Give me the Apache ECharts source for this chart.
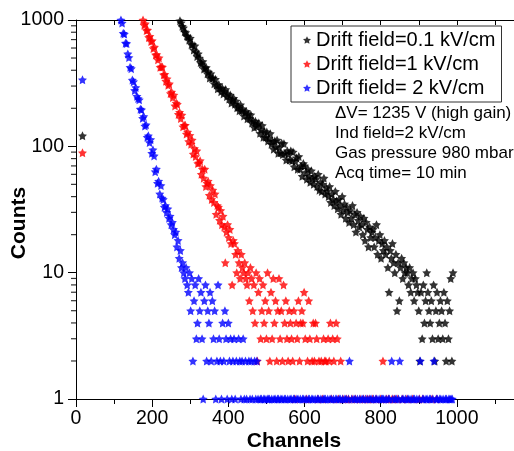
<!DOCTYPE html>
<html>
<head>
<meta charset="utf-8">
<script src="https://cdn.jsdelivr.net/npm/echarts@6/dist/echarts.min.js"></script>
<style>
html, body { margin: 0; padding: 0; background: #fff; }
#chart { width: 514px; height: 451px; }
</style>
</head>
<body>
<div id="chart"></div>
<script>
var seriesNames = ['Drift field=0.1 kV/cm', 'Drift field=1 kV/cm', 'Drift field= 2 kV/cm'];
var seriesColors = ['#000000', '#ff0000', '#0000ff'];

// one lonely bin near channel 17 in every run
var spikeChannel = 17;
var spikeCounts = [121, 89, 336];

// counts read off every 3rd channel, 0 = empty bin (not drawn on log axis)
var channelStep = 3;
var blackStart = 270;
var blackCounts = [
	1040, 985, 950, 892, 866, 808, 795, 748, 737, 694,
	718, 638, 640, 578, 625, 559, 513, 541, 500, 461,
	448, 468, 410, 418, 421, 376, 388, 347, 376, 345,
	348, 313, 339, 306, 286, 308, 289, 271, 289, 260,
	272, 282, 248, 259, 237, 255, 220, 234, 240, 215,
	228, 202, 208, 191, 213, 191, 198, 174, 185, 189,
	165, 179, 166, 178, 153, 159, 141, 158, 144, 149,
	153, 127, 135, 146, 118, 131, 118, 130, 110, 116,
	126, 104, 109, 95, 110, 99, 112, 88, 98, 89,
	106, 86, 105, 88, 78, 92, 87, 78, 92, 77,
	90, 69, 76, 81, 66, 83, 66, 70, 58, 73,
	70, 62, 55, 66, 58, 52, 64, 56, 50, 58,
	55, 48, 60, 45, 52, 44, 50, 56, 42, 47,
	44, 40, 48, 36, 42, 38, 34, 44, 37, 32,
	38, 34, 29, 40, 31, 35, 27, 33, 30, 25,
	31, 27, 34, 24, 29, 21, 30, 26, 23, 28,
	24, 20, 27, 18, 25, 22, 16, 23, 19, 21,
	22, 16, 19, 24, 14, 18, 20, 13, 17, 15,
	18, 14, 16, 11, 7, 15, 13, 17, 12, 10,
	14, 5, 12, 6, 11, 13, 9, 12, 10, 11,
	10, 8, 11, 7, 9, 10, 6, 9, 8, 7,
	5, 2, 7, 3, 8, 4, 6, 10, 7, 5,
	4, 6, 3, 8, 2, 5, 7, 3, 4, 6,
	5, 3, 7, 4, 2, 6, 3, 5, 9, 2,
	10
];
var redStart = 176;
var redCounts = [
	1000, 910, 935, 826, 832, 728, 742, 675, 686, 594,
	610, 529, 533, 485, 502, 423, 427, 424, 368, 371,
	328, 343, 304, 312, 262, 269, 243, 255, 209, 220,
	215, 179, 186, 166, 177, 143, 147, 147, 125, 130,
	109, 122, 104, 112, 87, 96, 83, 92, 73, 74,
	77, 60, 66, 56, 66, 48, 51, 53, 41, 49,
	38, 45, 36, 42, 29, 34, 33, 26, 31, 24,
	28, 23, 12, 21, 24, 19, 22, 17, 8, 18,
	17, 14, 10, 15, 12, 9, 14, 11, 10, 12,
	9, 8, 10, 6, 11, 9, 5, 8, 4, 10,
	2, 7, 9, 3, 5, 8, 4, 6, 3, 10,
	5, 2, 7, 3, 9, 4, 6, 2, 5, 9,
	3, 5, 2, 8, 4, 6, 3, 2, 5, 4,
	3, 2, 5, 1, 4, 3, 6, 2, 4, 5,
	4, 7, 3, 1, 2, 6, 3, 0, 2, 4,
	2, 4, 3, 1, 2, 0, 2, 1, 3, 2,
	2, 0, 3, 2, 4, 1, 3, 2, 0, 4,
	3, 1, 0, 2, 0, 1, 0, 0, 1, 0,
	1, 0, 0, 1, 0, 0, 1, 0, 0, 0,
	1, 0, 0, 1, 0, 0, 1, 0, 1, 0,
	0, 1, 0, 0, 1, 0, 0, 0, 1, 0,
	2, 0, 0, 1, 0, 1, 0, 0, 1, 0,
	1, 0, 0, 1, 0, 0, 0, 1, 0, 0,
	0, 1, 0, 0, 0, 0, 1, 0, 0, 0,
	0, 0, 1, 0, 0, 1, 0, 0, 0, 0,
	0, 0, 0, 1, 0, 0, 0, 1, 0, 0
];
var blueStart = 115;
var blueCounts = [
	1100, 1000, 946, 786, 775, 656, 652, 539, 505, 423,
	412, 335, 325, 277, 292, 249, 239, 234, 197, 195,
	167, 172, 145, 148, 118, 121, 107, 113, 88, 94,
	84, 63, 66, 51, 53, 42, 49, 39, 38, 33,
	34, 30, 32, 27, 28, 24, 25, 22, 20, 21,
	16, 18, 13, 15, 11, 12, 10, 9, 11, 8,
	7, 10, 5, 9, 2, 6, 8, 3, 4, 9,
	5, 7, 3, 1, 6, 8, 2, 5, 4, 7,
	2, 6, 3, 5, 1, 2, 8, 3, 2, 1,
	4, 2, 5, 3, 1, 4, 2, 3, 1, 2,
	3, 1, 2, 0, 3, 2, 1, 2, 3, 1,
	2, 1, 0, 2, 1, 2, 1, 0, 2, 1,
	2, 1, 0, 1, 1, 0, 1, 1, 0, 1,
	1, 1, 0, 1, 0, 1, 1, 0, 1, 1,
	0, 1, 1, 0, 1, 1, 0, 1, 0, 1,
	1, 0, 1, 1, 0, 1, 1, 0, 1, 0,
	1, 1, 0, 1, 0, 1, 1, 0, 1, 1,
	0, 1, 0, 1, 1, 0, 1, 0, 1, 1,
	1, 0, 1, 0, 1, 1, 0, 1, 0, 1,
	1, 0, 1, 1, 0, 1, 0, 1, 1, 0,
	1, 2, 0, 1, 0, 1, 1, 0, 1, 0,
	1, 0, 1, 1, 0, 1, 0, 1, 0, 1,
	1, 0, 1, 0, 1, 1, 0, 1, 0, 1,
	1, 1, 0, 1, 0, 1, 1, 0, 2, 1,
	0, 1, 1, 0, 1, 2, 0, 1, 1, 0,
	1, 0, 1, 1, 0, 1, 0, 1, 1, 0,
	1, 0, 1, 2, 0, 1, 1, 0, 1, 1,
	0, 1, 1, 0, 1, 2, 0, 1, 1, 0,
	1, 1, 0, 1, 0, 1, 1, 0, 1, 1,
	1, 1
];

var yMinorTicks = [2, 3, 4, 5, 6, 7, 8, 9, 20, 30, 40, 50, 60, 70, 80, 90, 200, 300, 400, 500, 600, 700, 800, 900];
var noteLines = ['\u0394V= 1235 V (high gain)', 'Ind field=2 kV/cm', 'Gas pressure 980 mbar', 'Acq time= 10 min'];

var fontName = '"Liberation Sans", Arial, Helvetica, sans-serif';
var star = 'path://M50,0 L64.69,29.77 L97.55,34.55 L73.78,57.73 L79.39,90.45 L50,75 L20.61,90.45 L26.22,57.73 L2.45,34.55 L35.31,29.77 Z';

function toPoints(start, counts, spike) {
	var pts = [[spikeChannel, spike]];
	for (var i = 0; i < counts.length; i++) {
		if (counts[i] > 0) pts.push([start + i * channelStep, counts[i]]);
	}
	return pts;
}

var allData = [
	toPoints(blackStart, blackCounts, spikeCounts[0]),
	toPoints(redStart, redCounts, spikeCounts[1]),
	toPoints(blueStart, blueCounts, spikeCounts[2])
];

var series = [];
for (var s = 0; s < 3; s++) {
	series.push({
		name: seriesNames[s],
		type: 'scatter',
		symbol: star,
		symbolSize: 9,
		itemStyle: { color: seriesColors[s] },
		data: allData[s]
	});
}
// minor ticks of the log axis (outside), as tiny bars on the y axis
series.push({
	type: 'scatter',
	silent: true,
	clip: false,
	symbol: 'rect',
	symbolSize: [5, 1.2],
	symbolOffset: [-2.5, 0],
	itemStyle: { color: '#000' },
	z: 5,
	data: yMinorTicks.map(function (v) { return [0, v]; })
});

var mychart = echarts.init(document.getElementById('chart'));
var option = {
	animation: false,
	backgroundColor: '#fff',
	textStyle: { fontFamily: fontName, color: '#000' },
	grid: { left: 76, right: -19, top: 20, bottom: 52, containLabel: false, outerBoundsMode: 'none' },
	legend: {
		data: seriesNames,
		orient: 'vertical',
		left: 291,
		top: 26,
		padding: [4, 6, 4, 12],
		itemGap: 4,
		itemWidth: 8,
		itemHeight: 8,
		borderColor: '#333',
		borderWidth: 1,
		textStyle: { fontSize: 20, color: '#000', fontFamily: fontName }
	},
	xAxis: [{
		type: 'value',
		position: 'bottom',
		min: 0,
		max: 1200,
		interval: 200,
		axisLine: { show: true, onZero: false, lineStyle: { color: '#000', width: 1 } },
		axisTick: { show: true, inside: false, length: 8, lineStyle: { color: '#000' } },
		minorTick: { show: true, splitNumber: 2, length: 5, lineStyle: { color: '#000' } },
		axisLabel: {
			fontSize: 19.5, color: '#000', margin: 10, showMaxLabel: false, fontFamily: fontName,
			formatter: function (v) { return String(v); }
		},
		splitLine: { show: false }
	}, {
		type: 'value',
		position: 'top',
		min: 0,
		max: 1200,
		interval: 100,
		axisLine: { show: true, onZero: false, lineStyle: { color: '#000', width: 1 } },
		axisTick: { show: true, inside: true, length: 5, lineStyle: { color: '#000' } },
		axisLabel: { show: false },
		splitLine: { show: false }
	}],
	yAxis: {
		type: 'log',
		logBase: 10,
		min: 1,
		max: 1000,
		axisLine: { show: true, onZero: false, lineStyle: { color: '#000', width: 1 } },
		axisTick: { show: true, inside: false, length: 8, lineStyle: { color: '#000' } },
		axisLabel: {
			fontSize: 19.5, color: '#000', margin: 12, fontFamily: fontName,
			formatter: function (v) { return String(Math.round(v)); }
		},
		splitLine: { show: false }
	},
	graphic: [{
		type: 'text',
		x: 335,
		y: 103,
		style: { text: noteLines.join('\n'), fontSize: 17, lineHeight: 20, fontFamily: fontName, fill: '#000' }
	}, {
		type: 'text',
		x: 294,
		y: 441,
		style: { text: 'Channels', fontSize: 21, fontWeight: 'bold', fontFamily: fontName, fill: '#000', align: 'center', verticalAlign: 'middle' }
	}, {
		type: 'text',
		x: 19,
		y: 223,
		rotation: Math.PI / 2,
		style: { text: 'Counts', fontSize: 21, fontWeight: 'bold', fontFamily: fontName, fill: '#000', align: 'center', verticalAlign: 'middle' }
	}],
	series: series
};
mychart.setOption(option);
</script>
</body>
</html>
